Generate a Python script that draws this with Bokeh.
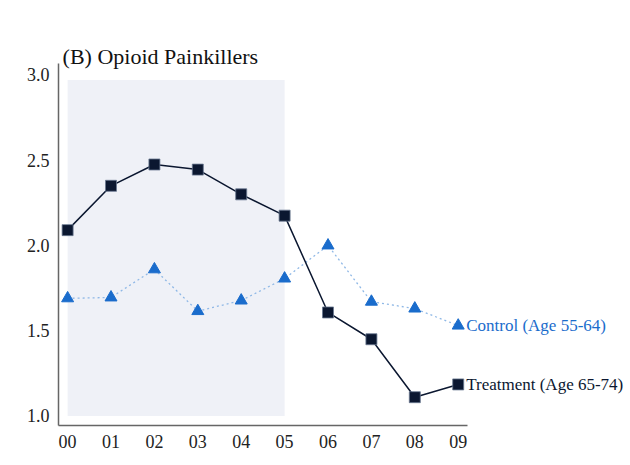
from bokeh.plotting import figure
from bokeh.models import Label, Range1d, FixedTicker
from bokeh.embed import file_html
from bokeh.resources import INLINE

years = [0, 1, 2, 3, 4, 5, 6, 7, 8, 9]
year_labels = ["00", "01", "02", "03", "04", "05", "06", "07", "08", "09"]
treatment = [2.09, 2.35, 2.475, 2.445, 2.30, 2.175, 1.607, 1.45, 1.11, 1.185]
control = [1.69, 1.695, 1.86, 1.615, 1.677, 1.806, 2.0, 1.67, 1.63, 1.53]
y_ticks = [1.0, 1.5, 2.0, 2.5, 3.0]
pre_period = [0, 5]
shade_bottom, shade_top = 1.0, 2.97

FONT = "Liberation Serif"
DARK = "#0b1730"
BLUE = "#1a6ccc"

x_lo, x_hi_axis = -0.21, 9.21
y_lo, y_hi_axis = 0.944, 3.067

p = figure(width=630, height=465, output_backend="svg", toolbar_location=None,
           x_range=Range1d(x_lo, 12.97), y_range=Range1d(y_lo, 3.437),
           min_border_left=58, min_border_right=0, min_border_top=0,
           min_border_bottom=40)
p.outline_line_color = None
p.xgrid.visible = False
p.ygrid.visible = False
p.background_fill_color = "white"

p.quad(left=pre_period[0], right=pre_period[1], bottom=shade_bottom, top=shade_top,
       fill_color="#eff1f7", line_color=None)

p.line(years, control, line_color="#8fb8e6", line_width=1.3, line_dash="2 3")
p.scatter(years, control, marker="triangle", size=12, fill_color=BLUE, line_color=BLUE)

p.line(years, treatment, line_color=DARK, line_width=1.5)
p.scatter(years, treatment, marker="square", size=11, fill_color=DARK, line_color="#6a7890", line_width=0.8)

for ax in (p.xaxis[0], p.yaxis[0]):
    ax.axis_line_color = "#666666"
    ax.axis_line_width = 1.5
    ax.major_tick_line_color = None
    ax.minor_tick_line_color = None
    ax.major_label_text_font = FONT
    ax.major_label_text_font_size = "18px"
    ax.major_label_text_color = "#222222"

p.xaxis[0].bounds = (x_lo, x_hi_axis)
p.yaxis[0].bounds = (y_lo, y_hi_axis)
p.xaxis[0].ticker = FixedTicker(ticks=years)
p.xaxis[0].major_label_overrides = {y: l for y, l in zip(years, year_labels)}
p.xaxis[0].major_label_standoff = 3
p.yaxis[0].ticker = FixedTicker(ticks=y_ticks)
p.yaxis[0].major_label_overrides = {t: f"{t:.1f}" for t in y_ticks}
p.yaxis[0].major_label_standoff = 3

p.add_layout(Label(x=years[-1], y=control[-1], text="Control (Age 55-64)",
                   x_offset=8, text_baseline="middle", text_font=FONT,
                   text_font_size="17px", text_color=BLUE))
p.add_layout(Label(x=years[-1], y=treatment[-1], text="Treatment (Age 65-74)",
                   x_offset=8, text_baseline="middle", text_font=FONT,
                   text_font_size="17px", text_color=DARK))
p.add_layout(Label(x=-0.115, y=3.108, text="(B) Opioid Painkillers",
                   text_baseline="alphabetic", text_font=FONT,
                   text_font_size="22px", text_color="#111111"))

open("out.html", "w").write(file_html(p, INLINE))
